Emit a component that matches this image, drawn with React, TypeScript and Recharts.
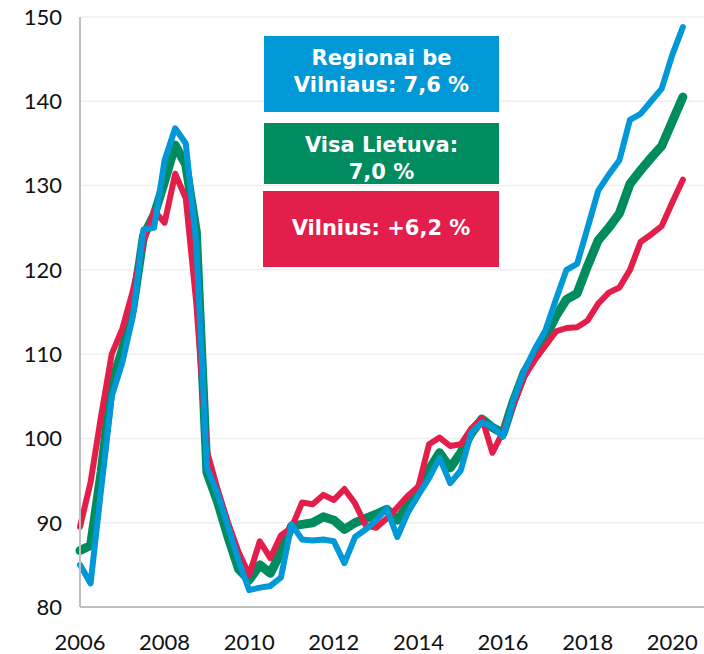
import { LineChart, Line, XAxis, YAxis, CartesianGrid } from "recharts";

// quarterly index, 2006 Q1 .. 2020 Q2
const yearLabels = ["2006", "2008", "2010", "2012", "2014", "2016", "2018", "2020"];
const yTicks = [80, 90, 100, 110, 120, 130, 140, 150];

const regionai = [
  85.0, 82.8, 94.0, 105.0, 109.0, 114.5, 124.8, 125.0, 133.0, 136.8,
  135.0, 123.0, 96.5, 93.5, 89.5, 85.5, 82.0, 82.3, 82.5, 83.5,
  89.8, 88.0, 87.9, 88.0, 87.8, 85.2, 88.3, 89.2, 90.3, 91.7,
  88.3, 91.2, 93.3, 95.3, 97.7, 94.7, 96.2, 100.7, 101.9, 101.4,
  100.2, 104.6, 108.0, 110.6, 112.8, 116.5, 120.0, 120.7, 125.0, 129.4,
  131.3, 133.0, 137.8, 138.5, 140.0, 141.5, 145.5, 148.8,
];

const lietuva = [
  86.7, 87.3, 96.0, 106.5, 110.5, 115.5, 124.0, 126.5, 130.5, 134.8,
  132.5, 124.5, 96.0, 92.5, 88.3, 84.5, 83.2, 85.0, 84.0, 86.5,
  89.6, 89.8, 90.0, 90.7, 90.3, 89.2, 90.0, 90.5, 91.0, 91.6,
  90.3, 92.0, 94.0, 96.3, 98.3, 96.5, 98.3, 100.6, 102.3, 101.3,
  100.6, 104.5, 107.8, 110.0, 112.0, 114.5, 116.5, 117.2, 120.5, 123.5,
  125.0, 126.7, 130.2, 131.8, 133.3, 134.7, 137.6, 140.5,
];

const vilnius = [
  89.5, 94.8, 102.7, 110.0, 113.0, 117.5, 123.3, 127.0, 125.6, 131.4,
  128.5, 116.0, 98.5, 94.0, 90.0, 86.5, 83.8, 87.8, 85.8, 88.5,
  89.4, 92.4, 92.2, 93.3, 92.7, 94.0, 92.3, 89.7, 89.4, 90.5,
  91.8, 93.2, 94.3, 99.3, 100.1, 99.1, 99.3, 101.2, 102.4, 98.3,
  100.8, 104.0, 107.3, 109.3, 111.0, 112.7, 113.1, 113.2, 114.0, 116.0,
  117.3, 117.9, 120.0, 123.3, 124.2, 125.2, 128.0, 130.7,
];

const data = regionai.map((v, i) => ({
  q: i,
  regionai: v,
  lietuva: lietuva[i],
  vilnius: vilnius[i],
}));
const xTicks = yearLabels.map((_, i) => i * 8);

const BLUE = "#0098d6";
const GREEN = "#008c5e";
const RED = "#e31e4b";

const boxText = {
  position: "absolute" as const,
  left: 264,
  width: 235,
  color: "#fff",
  fontFamily: "DejaVu Sans",
  fontWeight: 700,
  fontSize: 21,
  lineHeight: "27px",
  textAlign: "center" as const,
  boxSizing: "border-box" as const,
  overflow: "visible",
};

export default function App() {
  return (
    <div style={{ position: "absolute", left: 0, top: 0, width: 704, height: 654, background: "#fff" }}>
      <LineChart width={704} height={654} data={data} margin={{ top: 17, right: 0, bottom: 7, left: 0 }}>
        <CartesianGrid vertical={false} stroke="#efefef" strokeWidth={1.5} />
        <XAxis
          type="number"
          dataKey="q"
          domain={[0, 59]}
          ticks={xTicks}
          interval={0}
          tickFormatter={(v) => yearLabels[v / 8]}
          height={40}
          tickLine={false}
          tickMargin={21}
          axisLine={{ stroke: "#bfbfbf", strokeWidth: 2 }}
          tick={{ fill: "#111", fontSize: 22, fontFamily: "Lato" }}
        />
        <YAxis
          domain={[80, 150]}
          ticks={yTicks}
          interval={0}
          width={80}
          tickLine={false}
          tickMargin={12}
          axisLine={{ stroke: "#bfbfbf", strokeWidth: 2 }}
          tick={{ fill: "#111", fontSize: 22, fontFamily: "Lato" }}
        />
        <Line
          type="linear"
          dataKey="lietuva"
          stroke={GREEN}
          strokeWidth={9}
          strokeLinecap="round"
          strokeLinejoin="round"
          dot={false}
          activeDot={false}
          isAnimationActive={false}
        />
        <Line
          type="linear"
          dataKey="vilnius"
          stroke={RED}
          strokeWidth={6}
          strokeLinecap="round"
          strokeLinejoin="round"
          dot={false}
          activeDot={false}
          isAnimationActive={false}
        />
        <Line
          type="linear"
          dataKey="regionai"
          stroke={BLUE}
          strokeWidth={6}
          strokeLinecap="round"
          strokeLinejoin="round"
          dot={false}
          activeDot={false}
          isAnimationActive={false}
        />
      </LineChart>
      <div style={{ ...boxText, top: 36, height: 76, paddingTop: 9, background: BLUE }}>
        Regionai be
        <br />
        Vilniaus: 7,6 %
      </div>
      <div style={{ ...boxText, top: 123, height: 61, paddingTop: 9, background: GREEN }}>
        Visa Lietuva:
        <br />
        7,0 %
      </div>
      <div style={{ ...boxText, left: 263, width: 236, top: 191, height: 76, paddingTop: 24, background: RED }}>
        Vilnius: +6,2 %
      </div>
    </div>
  );
}
